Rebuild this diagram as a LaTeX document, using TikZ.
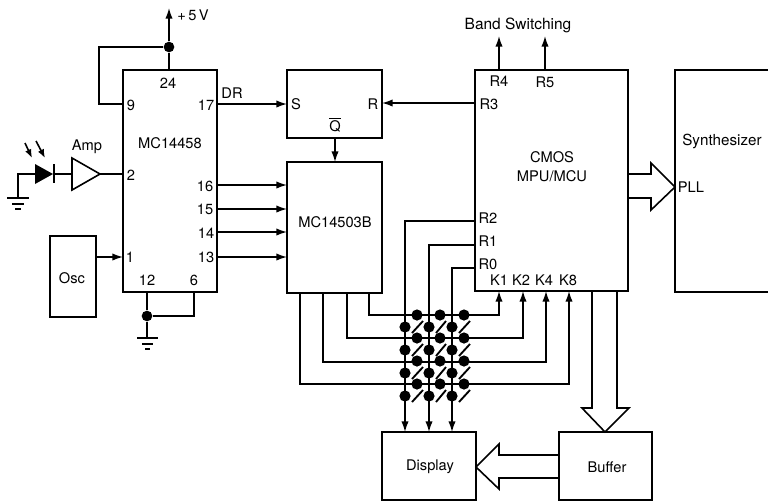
\documentclass[tikz,border=0pt]{standalone}
\usepackage{fontspec}
\setmainfont{TeX Gyre Heros}
\usetikzlibrary{arrows.meta,fit}
\tikzset{
  x=.75pt,y=-.75pt,
  blk/.style={draw,line width=1.6pt,inner sep=0pt,outer sep=0pt},
  wire/.style={line width=1.1pt},
  arr/.style={wire,-{Latex[length=8pt,width=5.5pt]}},
  wide/.style={line width=1.2pt,line join=miter},
  lbl/.style={font=\fontsize{11}{13}\selectfont,inner sep=0pt,text=black},
  dot/.style={circle,fill=black,inner sep=0pt,minimum size=8.4pt},
  sl/.style={line width=1.4pt},
  gnd/.style={line width=1.2pt}
}
\newcommand{\blkbox}[5]{%
  \coordinate (#1-a) at (#2,#3);\coordinate (#1-b) at (#4,#5);
  \node[blk,fit=(#1-a)(#1-b)] (#1) {};}
\newcommand{\txt}[4]{\node[lbl] (#1) at (#2,#3) {#4};}
\begin{document}
\begin{tikzpicture}
\useasboundingbox (0,0) rectangle (768,501);
\clip (0,0) rectangle (768,501);
% blocks
\blkbox{ic}{123}{70}{217}{292}
\blkbox{osc}{50}{236}{96}{317}
\blkbox{ff}{287}{70}{382}{138}
\blkbox{dec}{287}{162}{382}{293}
\blkbox{mcu}{475}{70}{628}{291}
\blkbox{syn}{675}{70}{790}{292}
\blkbox{disp}{382}{432}{476}{500}
\blkbox{buf}{559}{432}{652}{500}
% +5V
\node[dot,minimum size=8pt] (vj) at (169,47) {};
\coordinate (vt) at (169,8);
\draw[arr] (vj) -- (vt);
\draw[wire] (vj) -- (ic.north -| vj);
\draw[wire] (vj) -- (99,47) -- (99,104) -- (ic.west |- 0,104);
% photo diode and amp
\coordinate (gl) at (18,198);
\coordinate (dk) at (54,174);
\coordinate (aw) at (72,174);
\coordinate (at) at (100,174);
\draw[wire] (gl) -- (18,174) -- (35,174);
\fill (35,164) -- (53,174) -- (35,184) -- cycle;
\draw[line width=1.5pt] (54,164) -- (54,183);
\draw[wire] (dk) -- (aw);
\draw[wide] (72,158) -- (at) -- (72,190) -- cycle;
\draw[wire] (at) -- (ic.west |- at);
\draw[line width=1.2pt,-{Latex[length=6.5pt,width=5pt]}] (25,143) -- (32,158);
\draw[line width=1.2pt,-{Latex[length=6.5pt,width=5pt]}] (36,141) -- (45,158);
\draw[gnd] (7,198) -- (29,198) (12,204) -- (24,204) (15,209) -- (21,209);
% Osc
\draw[arr] (osc.east |- 0,257) -- (ic.west |- 0,257);
% bottom of IC
\node[dot,minimum size=8pt] (gj) at (147,316) {};
\draw[wire] (gj) -- (ic.south -| gj);
\draw[wire] (gj) -- (194,316) -- (ic.south -| 194,0);
\coordinate (gb) at (147,338);
\draw[wire] (gj) -- (gb);
\draw[gnd] (137,338) -- (158,338) (142,344) -- (153,344) (145,349) -- (150,349);
% IC outputs
\draw[arr] (ic.east |- 0,104) -- (ff.west |- 0,104);
\draw[arr] (ic.east |- 0,185) -- (dec.west |- 0,185);
\draw[arr] (ic.east |- 0,209) -- (dec.west |- 0,209);
\draw[arr] (ic.east |- 0,232) -- (dec.west |- 0,232);
\draw[arr] (ic.east |- 0,257) -- (dec.west |- 0,257);
% flip flop
\draw[arr] (mcu.west |- 0,103) -- (ff.east |- 0,103);
\draw[arr] (ff.south -| 335,0) -- (dec.north -| 335,0);
% band switching
\draw[arr] (mcu.north -| 499,0) -- (499,36);
\draw[arr] (mcu.north -| 545,0) -- (545,36);
% matrix columns
\draw[arr] (mcu.west |- 0,221) -- (405,221) -- (disp.north -| 405,0);
\draw[arr] (mcu.west |- 0,245) -- (429,245) -- (disp.north -| 429,0);
\draw[arr] (mcu.west |- 0,268) -- (452,268) -- (disp.north -| 452,0);
% matrix rows
\draw[arr] (dec.south -| 369,0) -- (369,315) -- (499,315) -- (mcu.south -| 499,0);
\draw[arr] (dec.south -| 347,0) -- (347,338) -- (523,338) -- (mcu.south -| 523,0);
\draw[arr] (dec.south -| 323,0) -- (323,362) -- (546,362) -- (mcu.south -| 546,0);
\draw[arr] (dec.south -| 300,0) -- (300,384) -- (569,384) -- (mcu.south -| 569,0);
% matrix keys
\foreach \r/\yr/\yc in {1/315/327,2/338/350,3/361/373,4/384/396}{
  \foreach \c/\xr/\xc in {1/417/405,2/440/429,3/464/452}{
    \node[dot] (kr\r\c) at (\xr,\yr) {};
    \node[dot] (kc\r\c) at (\xc,\yc) {};
    \draw[sl] (\xc+7,\yc+6) -- (\xr+6,\yr+6);
  }
}
% wide arrows
\draw[wide] (mcu.east |- 0,174) -- (651,174) -- (651,163) -- (syn.west |- 0,187) -- (651,210) -- (651,198) -- (mcu.east |- 0,198);
\draw[wide] (mcu.south -| 592,0) -- (592,408) -- (582,408) -- (buf.north -| 605,0) -- (629,408) -- (617,408) -- (mcu.south -| 617,0);
\draw[wide] (buf.west |- 0,455) -- (499,455) -- (499,444) -- (disp.east |- 0,467) -- (499,489) -- (499,478) -- (buf.west |- 0,478);
% labels
\txt{t5v}{193}{15}{+\,5\,V}
\txt{t24}{168}{83}{24}
\txt{t9}{131}{105}{9}
\txt{t17}{206}{105}{17}
\txt{tdr}{232}{93}{DR}
\txt{tic}{170}{143}{MC14458}
\txt{tamp}{87}{147}{Amp}
\txt{t2}{131}{175}{2}
\txt{t16}{205}{186}{16}
\txt{t15}{205}{209}{15}
\txt{t14}{206}{233}{14}
\txt{t13}{206}{257}{13}
\txt{t1}{130}{257}{1}
\txt{t12}{147}{280}{12}
\txt{t6}{194}{280}{6}
\txt{tosc}{72}{278}{Osc}
\txt{ts}{296}{104}{S}
\txt{tr}{373}{104}{R}
\txt{tq}{335}{125}{$\overline{\mbox{Q}}$}
\txt{tdec}{335}{222}{MC14503B}
\node[lbl,font=\fontsize{11.6}{13}\selectfont] (tband) at (518,25) {Band Switching};
\txt{tr4}{499}{81}{R4}
\txt{tr5}{545}{82}{R5}
\txt{tr3}{489}{104}{R3}
\txt{tr2}{488}{218}{R2}
\txt{tr1}{488}{241}{R1}
\txt{tr0}{488}{264}{R0}
\txt{tk1}{499}{280}{K1}
\txt{tk2}{521}{280}{K2}
\txt{tk4}{544}{280}{K4}
\txt{tk8}{568}{280}{K8}
\txt{tm1}{552}{157}{CMOS}
\txt{tm2}{552}{176}{MPU/MCU}
\node[lbl,font=\fontsize{11.4}{13}\selectfont] (tsyn) at (722,141) {Synthesizer};
\txt{tpll}{691}{187}{PLL}
\txt{tdisp}{430}{467}{Display}
\txt{tbuf}{607}{467}{Buffer}
\end{tikzpicture}
\end{document}
